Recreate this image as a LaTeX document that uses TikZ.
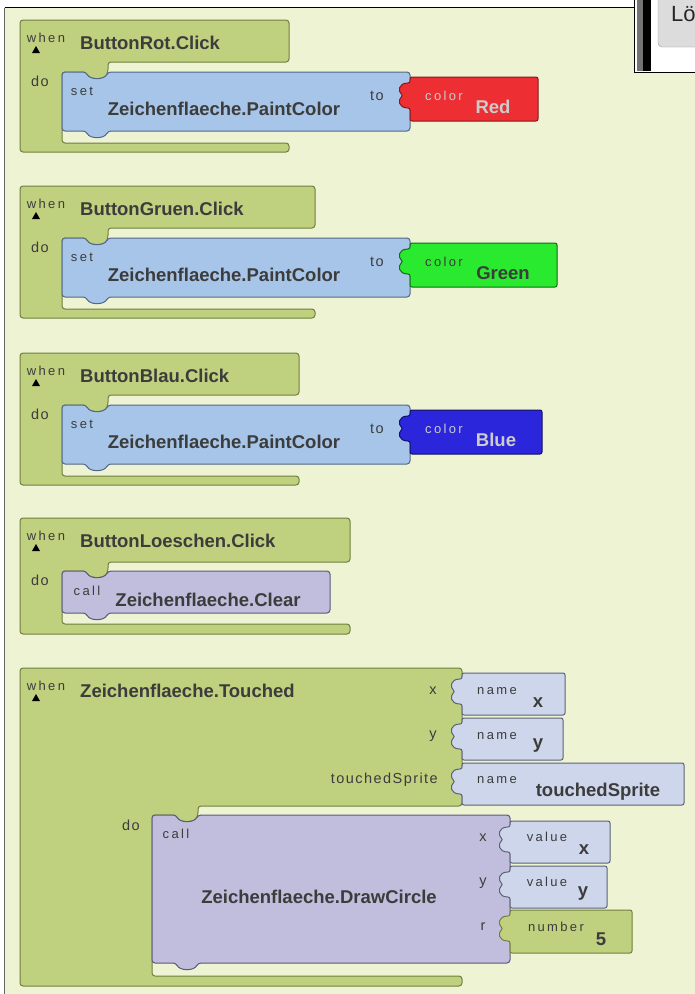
\documentclass[tikz,border=0pt]{standalone}
\usepackage{fontspec}
\usepackage{tikz}
\setmainfont{Liberation Sans}
\newfontfamily\spacedfont[LetterSpace=18]{Liberation Sans}
\newfontfamily\labelfont[LetterSpace=10]{Liberation Sans}
\usetikzlibrary{positioning}

\definecolor{canvas}{RGB}{237,243,211}
\definecolor{evgreen}{RGB}{191,208,127}
\definecolor{evedge}{RGB}{112,128,62}
\definecolor{setblue}{RGB}{166,197,232}
\definecolor{setedge}{RGB}{84,104,134}
\definecolor{callpurple}{RGB}{193,189,220}
\definecolor{calledge}{RGB}{92,90,122}
\definecolor{argblue}{RGB}{206,214,235}
\definecolor{argedge}{RGB}{92,98,118}
\definecolor{colred}{RGB}{237,46,51}
\definecolor{colgreen}{RGB}{42,234,47}
\definecolor{colblue}{RGB}{43,37,220}
\definecolor{txtdark}{RGB}{60,60,60}
\definecolor{txtlight}{RGB}{204,204,204}
\definecolor{btngray}{RGB}{220,220,220}

\newcommand{\bigfont}{\bfseries\fontsize{18.5}{21}\selectfont}
\newcommand{\tinyfont}{\spacedfont\fontsize{13}{15}\selectfont}
\newcommand{\lblfont}{\labelfont\fontsize{14.5}{16}\selectfont}

\begin{document}
\begin{tikzpicture}[x=1pt, y=-1pt,
    evblock/.style={fill=evgreen, draw=evedge, line width=1pt, rounded corners=3pt},
    setblock/.style={fill=setblue, draw=setedge, line width=1pt, rounded corners=3pt},
    callblock/.style={fill=callpurple, draw=calledge, line width=1pt, rounded corners=3pt},
    argblock/.style={fill=argblue, draw=argedge, line width=1pt, rounded corners=2pt},
    big/.style={font=\bigfont, text=txtdark, inner sep=0pt},
    tiny/.style={font=\tinyfont, text=txtdark, inner sep=0pt},
    lbl/.style={font=\lblfont, text=txtdark, inner sep=0pt},
    whenmark/.style={fill=black}]
    \useasboundingbox (0,0) rectangle (695,994);
    \fill[white] (0,0) rectangle (695,994);
    \fill[canvas] (5,8) rectangle (695,994);
    \draw[black!60, line width=1.2pt] (4.5,7.5) -- (4.5,994);
    \draw[black, line width=1pt] (4.5,7.5) -- (634,7.5);

    % window corner top right
    \fill[white] (634,0) rectangle (695,72);
    \fill[black!55] (637,0) rectangle (643,71);
    \fill[black] (643,0) rectangle (651,71);
    \draw[btngray!70!black, fill=btngray, rounded corners=4pt] (658,-6) rectangle (702,47);
    \draw[black, line width=1pt] (634,0) -- (634,72.5) -- (695,72.5);
    \node[anchor=west, inner sep=0pt, font=\fontsize{22}{24}\selectfont, text=black!85] (loeschenbtn) at (671,14) {Lö};

    % ButtonRot.Click
    \draw[evblock] (20,20) -- (289,20) -- (289,62) -- (108,62) -- (108,72) .. controls (104,80) and (90,80) .. (86,72) -- (62,72) -- (62,143) -- (289,143) -- (289,152) -- (20,152) -- cycle;
    \draw[setblock] (62,72) -- (86,72) .. controls (90,80) and (104,80) .. (108,72) -- (410,72) -- (410,131) -- (108,131) .. controls (104,139) and (90,139) .. (86,131) -- (62,131) -- cycle;
    \draw[argblock, fill=colred, draw=colred!55!black] (410,77) -- (538,77) -- (538,121) -- (410,121) -- (410,108) .. controls +(-12,0) and +(-5,4) .. ++(-7,-12.5) .. controls +(-5,-4) and +(-12,0) .. ++(7,-12.5) -- cycle;
    \node[tiny] (rotwhen) at (46,38) {when};
    \fill[whenmark] (32,53) -- (40,53) -- (36,46) -- cycle;
    \node[big, anchor=west] (rotevent) at (80,43) {ButtonRot.Click};
    \node[lbl] (rotdo) at (40,81) {do};
    \node[tiny] (rotset) at (82,91) {set};
    \node[big] (rotprop) at (224,109) {Zeichenflaeche.PaintColor};
    \node[lbl] (rotto) at (377,96) {to};
    \node[tiny, text=txtlight] (rotcolor) at (444,96) {color};
    \node[big, text=txtlight] (rotvalue) at (493,107) {Red};

    % ButtonGruen.Click
    \begin{scope}[shift={(0,166)}]
    \draw[evblock] (20,20) -- (315,20) -- (315,62) -- (108,62) -- (108,72) .. controls (104,80) and (90,80) .. (86,72) -- (62,72) -- (62,143) -- (315,143) -- (315,152) -- (20,152) -- cycle;
    \draw[setblock] (62,72) -- (86,72) .. controls (90,80) and (104,80) .. (108,72) -- (410,72) -- (410,131) -- (108,131) .. controls (104,139) and (90,139) .. (86,131) -- (62,131) -- cycle;
    \draw[argblock, fill=colgreen, draw=colgreen!45!black] (410,77) -- (557,77) -- (557,121) -- (410,121) -- (410,108) .. controls +(-12,0) and +(-5,4) .. ++(-7,-12.5) .. controls +(-5,-4) and +(-12,0) .. ++(7,-12.5) -- cycle;
    \node[tiny] (gruenwhen) at (46,38) {when};
    \fill[whenmark] (32,53) -- (40,53) -- (36,46) -- cycle;
    \node[big, anchor=west] (gruenevent) at (80,43) {ButtonGruen.Click};
    \node[lbl] (gruendo) at (40,81) {do};
    \node[tiny] (gruenset) at (82,91) {set};
    \node[big] (gruenprop) at (224,109) {Zeichenflaeche.PaintColor};
    \node[lbl] (gruento) at (377,96) {to};
    \node[tiny] (gruencolor) at (444,96) {color};
    \node[big] (gruenvalue) at (503,107) {Green};
    \end{scope}

    % ButtonBlau.Click
    \begin{scope}[shift={(0,333)}]
    \draw[evblock] (20,20) -- (299,20) -- (299,62) -- (108,62) -- (108,72) .. controls (104,80) and (90,80) .. (86,72) -- (62,72) -- (62,143) -- (299,143) -- (299,152) -- (20,152) -- cycle;
    \draw[setblock] (62,72) -- (86,72) .. controls (90,80) and (104,80) .. (108,72) -- (410,72) -- (410,131) -- (108,131) .. controls (104,139) and (90,139) .. (86,131) -- (62,131) -- cycle;
    \draw[argblock, fill=colblue, draw=colblue!45!black] (410,77) -- (542,77) -- (542,121) -- (410,121) -- (410,108) .. controls +(-12,0) and +(-5,4) .. ++(-7,-12.5) .. controls +(-5,-4) and +(-12,0) .. ++(7,-12.5) -- cycle;
    \node[tiny] (blauwhen) at (46,38) {when};
    \fill[whenmark] (32,53) -- (40,53) -- (36,46) -- cycle;
    \node[big, anchor=west] (blauevent) at (80,43) {ButtonBlau.Click};
    \node[lbl] (blaudo) at (40,81) {do};
    \node[tiny] (blauset) at (82,91) {set};
    \node[big] (blauprop) at (224,109) {Zeichenflaeche.PaintColor};
    \node[lbl] (blauto) at (377,96) {to};
    \node[tiny, text=txtlight] (blaucolor) at (444,96) {color};
    \node[big, text=txtlight] (blauvalue) at (496,107) {Blue};
    \end{scope}

    % ButtonLoeschen.Click
    \draw[evblock] (20,518) -- (350,518) -- (350,562) -- (108,562) -- (108,571) .. controls (104,579) and (90,579) .. (86,571) -- (62,571) -- (62,624) -- (350,624) -- (350,634) -- (20,634) -- cycle;
    \draw[callblock] (62,571) -- (86,571) .. controls (90,579) and (104,579) .. (108,571) -- (330,571) -- (330,613) -- (108,613) .. controls (104,621) and (90,621) .. (86,613) -- (62,613) -- cycle;
    \node[tiny] (loewhen) at (46,536) {when};
    \fill[whenmark] (32,551) -- (40,551) -- (36,544) -- cycle;
    \node[big, anchor=west] (loeevent) at (80,541) {ButtonLoeschen.Click};
    \node[lbl] (loedo) at (40,580) {do};
    \node[tiny] (loecall) at (87,591) {call};
    \node[big] (loeproc) at (208,600) {Zeichenflaeche.Clear};

    % Zeichenflaeche.Touched
    \draw[evblock] (20,668) -- (462,668) -- (462,806) -- (198,806) -- (198,815) .. controls (194,823) and (180,823) .. (176,815) -- (152,815) -- (152,976) -- (462,976) -- (462,986) -- (20,986) -- cycle;
    \draw[argblock] (462,673) -- (565,673) -- (565,715) -- (462,715) -- (462,704) .. controls +(-12,0) and +(-5,4) .. ++(-7,-12.5) .. controls +(-5,-4) and +(-12,0) .. ++(7,-12.5) -- cycle;
    \draw[argblock] (462,718) -- (563,718) -- (563,760) -- (462,760) -- (462,749) .. controls +(-12,0) and +(-5,4) .. ++(-7,-12.5) .. controls +(-5,-4) and +(-12,0) .. ++(7,-12.5) -- cycle;
    \draw[argblock] (462,763) -- (684,763) -- (684,805) -- (462,805) -- (462,794) .. controls +(-12,0) and +(-5,4) .. ++(-7,-12.5) .. controls +(-5,-4) and +(-12,0) .. ++(7,-12.5) -- cycle;
    \node[tiny] (touchwhen) at (46,686) {when};
    \fill[whenmark] (32,701) -- (40,701) -- (36,694) -- cycle;
    \node[big, anchor=west] (touchevent) at (80,691) {Zeichenflaeche.Touched};
    \node[lbl] (touchx) at (433,691) {x};
    \node[lbl] (touchy) at (433,736) {y};
    \node[lbl, anchor=east] (touchsprite) at (438,780) {touchedSprite};
    \node[tiny] (namexlbl) at (497,691) {name};
    \node[big] (namex) at (538,703) {x};
    \node[tiny] (nameylbl) at (497,736) {name};
    \node[big] (namey) at (538,746) {y};
    \node[tiny] (namespritelbl) at (497,780) {name};
    \node[big] (namesprite) at (598,792) {touchedSprite};
    \node[lbl] (touchdo) at (131,825) {do};

    % DrawCircle call
    \draw[callblock] (152,815) -- (176,815) .. controls (180,823) and (194,823) .. (198,815) -- (510,815) -- (510,963) -- (198,963) .. controls (194,971) and (180,971) .. (176,963) -- (152,963) -- cycle;
    \draw[argblock] (510,821) -- (610,821) -- (610,863) -- (510,863) -- (510,852) .. controls +(-12,0) and +(-5,4) .. ++(-7,-12.5) .. controls +(-5,-4) and +(-12,0) .. ++(7,-12.5) -- cycle;
    \draw[argblock] (510,866) -- (607,866) -- (607,908) -- (510,908) -- (510,897) .. controls +(-12,0) and +(-5,4) .. ++(-7,-12.5) .. controls +(-5,-4) and +(-12,0) .. ++(7,-12.5) -- cycle;
    \draw[argblock, fill=evgreen, draw=evedge] (510,910) -- (632,910) -- (632,953) -- (510,953) -- (510,941) .. controls +(-12,0) and +(-5,4) .. ++(-7,-12.5) .. controls +(-5,-4) and +(-12,0) .. ++(7,-12.5) -- cycle;
    \node[tiny] (drawcall) at (176,834) {call};
    \node[big] (drawproc) at (319,897) {Zeichenflaeche.DrawCircle};
    \node[lbl] (drawx) at (483,838) {x};
    \node[lbl] (drawy) at (483,883) {y};
    \node[lbl] (drawr) at (483,927) {r};
    \node[tiny] (valxlbl) at (547,837) {value};
    \node[big] (valx) at (584,850) {x};
    \node[tiny] (valylbl) at (547,882) {value};
    \node[big] (valy) at (583,894) {y};
    \node[tiny] (numlbl) at (556,927) {number};
    \node[big] (numval) at (601,939) {5};
\end{tikzpicture}
\end{document}
